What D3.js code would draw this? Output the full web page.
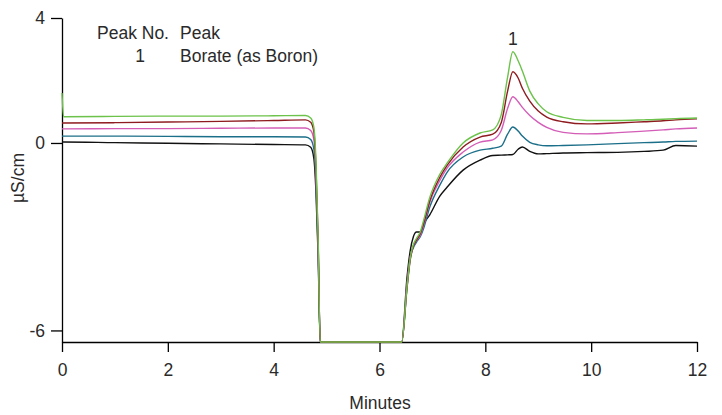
<!DOCTYPE html>
<html>
<head>
<meta charset="utf-8">
<script src="https://cdn.jsdelivr.net/npm/d3@7"></script>
<style>
  body { margin: 0; background: #fff; }
  text { font-family: "Liberation Sans", Arial, sans-serif; fill: #2a2a2a; }
</style>
</head>
<body>
<div id="chart"></div>
<script>
// sample times (minutes), shared by all traces
var times = [0, 0.03, 1, 2, 3, 4, 4.6, 4.7, 4.76, 4.8, 4.84, 4.88, 6.42, 6.52, 6.58, 6.64, 6.7, 6.77, 6.83, 6.95,
             7.14, 7.28, 7.58, 7.9, 8.14, 8.3, 8.42, 8.52, 8.62, 8.7, 8.84, 9.0, 9.16, 9.47, 9.92, 10.5, 11, 11.36, 11.6, 12];

var black = [0.03, 0.03, 0.01, -0.01, -0.03, -0.05, -0.06, -0.14, -0.5, -1.6, -3.6, -6.37, -6.37, -4.3, -3.45, -3.0, -2.85, -2.85, -2.6, -2.3,
             -1.7, -1.41, -0.87, -0.55, -0.4, -0.39, -0.38, -0.37, -0.2, -0.13, -0.27, -0.35, -0.34, -0.32, -0.31, -0.3, -0.27, -0.23, -0.08, -0.1];
var teal  = [0.22, 0.22, 0.22, 0.21, 0.2, 0.2, 0.19, 0.11, -0.2, -1.3, -3.4, -6.37, -6.37, -4.6, -3.7, -3.35, -3.17, -3.0, -2.75, -2.05,
             -1.35, -0.93, -0.45, -0.23, -0.17, -0.1, 0.28, 0.51, 0.38, 0.22, 0.02, -0.06, -0.09, -0.08, -0.06, -0.02, 0.01, 0.03, 0.05, 0.06];
var pink  = [0.45, 0.45, 0.46, 0.46, 0.47, 0.48, 0.48, 0.4, 0.1, -1.0, -3.2, -6.37, -6.37, -4.5, -3.65, -3.3, -3.12, -2.95, -2.65, -1.9,
             -1.2, -0.8, -0.29, 0.03, 0.1, 0.4, 1.1, 1.48, 1.32, 1.14, 0.88, 0.66, 0.5, 0.34, 0.29, 0.33, 0.38, 0.42, 0.45, 0.48];
var red   = [0.64, 0.64, 0.65, 0.67, 0.69, 0.72, 0.74, 0.66, 0.35, -0.8, -3.1, -6.37, -6.37, -4.65, -3.75, -3.3, -3.1, -2.9, -2.6, -1.85,
             -1.1, -0.71, -0.13, 0.19, 0.28, 0.65, 1.65, 2.28, 2.08, 1.75, 1.34, 1.02, 0.83, 0.68, 0.61, 0.64, 0.68, 0.71, 0.74, 0.77];
var green = [1.6, 0.84, 0.85, 0.86, 0.86, 0.87, 0.88, 0.8, 0.5, -0.6, -3.0, -6.37, -6.37, -4.6, -3.7, -3.25, -3.05, -2.85, -2.5, -1.74,
             -1.0, -0.64, 0.0, 0.32, 0.42, 0.9, 2.1, 2.92, 2.63, 2.3, 1.66, 1.25, 1.0, 0.82, 0.72, 0.72, 0.74, 0.76, 0.78, 0.8];

var xTicks = [0, 2, 4, 6, 8, 10, 12];
var yTicks = [-6, 0, 4];

var traces = [
  { values: black, color: "#111111" },
  { values: teal,  color: "#1c6f89" },
  { values: pink,  color: "#d35db7" },
  { values: red,   color: "#8e1b1f" },
  { values: green, color: "#6cc24a" }
];

var width = 722, height = 415,
    fontSize = "17.5px";

var svg = d3.select("#chart").append("svg")
    .attr("width", width)
    .attr("height", height);

var x = d3.scaleLinear().domain([0, 12]).range([62, 697]);
var y = d3.scaleLinear().domain([-6.37, 4]).range([342, 18]);

// axes (plain hyphen for negatives, like the original)
var xAxis = svg.append("g")
    .attr("transform", "translate(0,342)")
    .call(d3.axisBottom(x).tickValues(xTicks).tickSize(10).tickPadding(12).tickSizeOuter(0));
var yAxis = svg.append("g")
    .attr("transform", "translate(62,0)")
    .call(d3.axisLeft(y).tickValues(yTicks).tickFormat(function(d) { return String(d); })
      .tickSize(11).tickPadding(6).tickSizeOuter(0));

[xAxis, yAxis].forEach(function(a) {
  a.select(".domain").attr("stroke", "#000").attr("stroke-width", 1.3);
  a.selectAll(".tick line").attr("stroke", "#000").attr("stroke-width", 1.3);
  a.selectAll(".tick text").style("font-size", fontSize).style("font-family", "Liberation Sans, Arial, sans-serif").attr("fill", "#2a2a2a");
});

// traces
var line = d3.line()
    .x(function(d, i) { return x(times[i]); })
    .y(function(d) { return y(d); })
    .curve(d3.curveMonotoneX);

traces.forEach(function(t) {
  svg.append("path")
    .datum(t.values)
    .attr("fill", "none")
    .attr("stroke", t.color)
    .attr("stroke-width", 1.4)
    .attr("d", line);
});

// axis titles
svg.append("text")
    .attr("x", 380).attr("y", 409)
    .attr("text-anchor", "middle")
    .style("font-size", fontSize)
    .text("Minutes");
svg.append("text")
    .attr("transform", "translate(24,178) rotate(-90)")
    .attr("text-anchor", "middle")
    .style("font-size", fontSize)
    .text("µS/cm");

// legend
svg.append("text").attr("x", 97).attr("y", 39).style("font-size", fontSize).text("Peak No.");
svg.append("text").attr("x", 180).attr("y", 39).style("font-size", fontSize).text("Peak");
svg.append("text").attr("x", 140).attr("y", 62).attr("text-anchor", "middle").style("font-size", fontSize).text("1");
svg.append("text").attr("x", 180).attr("y", 62).style("font-size", fontSize).text("Borate (as Boron)");

// peak label
svg.append("text").attr("x", x(8.52)).attr("y", 45).attr("text-anchor", "middle").style("font-size", fontSize).text("1");
</script>
</body>
</html>
